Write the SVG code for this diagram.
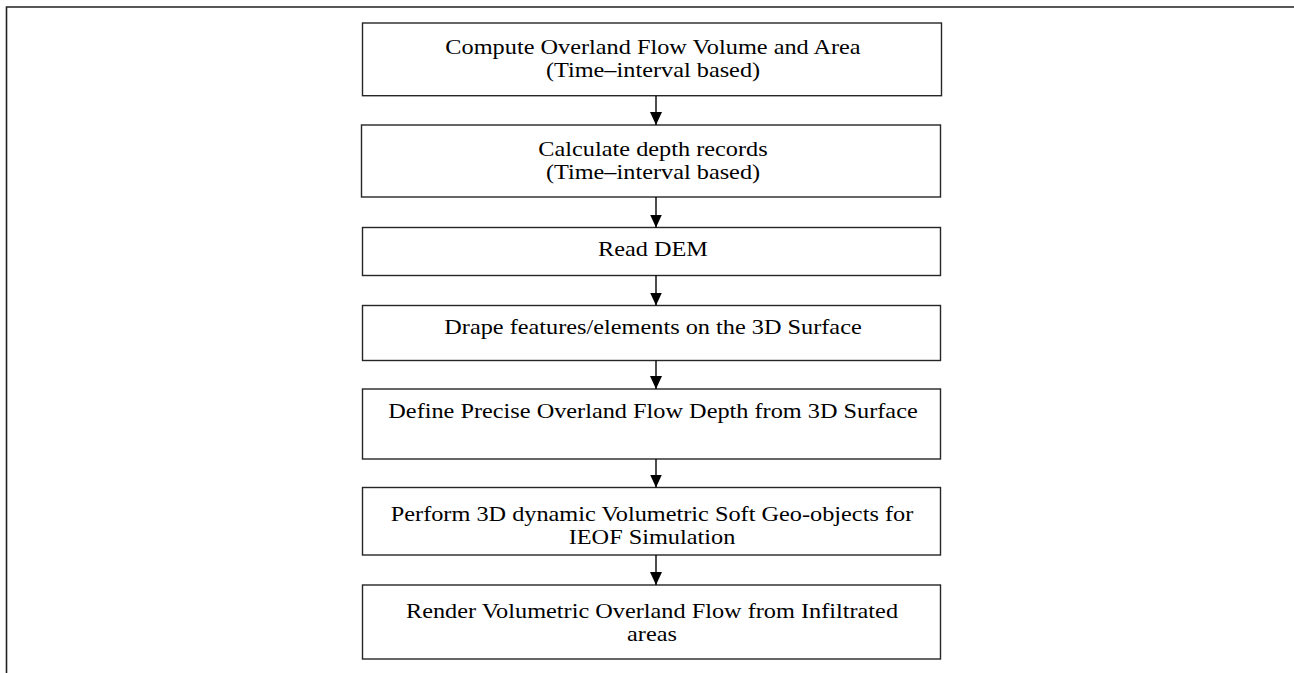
<svg xmlns="http://www.w3.org/2000/svg" width="1294" height="673" viewBox="0 0 1294 673">
<style>
.box{fill:#fff;stroke:#262626;stroke-width:1.4}
.t{font-family:"Liberation Serif","Times New Roman",serif;font-size:20.5px;fill:#000;text-anchor:middle}
.c{stroke:#000;stroke-width:1.4;fill:none}
.frame{stroke:#222;stroke-width:1.6;fill:none}
</style>
<defs>
<marker id="ah" markerUnits="userSpaceOnUse" markerWidth="14" markerHeight="14" refX="13" refY="6" orient="auto">
<path d="M0,0 L13,6 L0,12 Z" fill="#000"/>
</marker>
</defs>
<rect width="1294" height="673" fill="#fff"/>
<path class="frame" d="M6.5,673 V7 H1294"/>
<g id="n1"><rect class="box" x="362.5" y="23" width="579" height="72.7"/><text class="t" transform="translate(653 54) scale(1.185 1)">Compute Overland Flow Volume and Area</text><text class="t" transform="translate(653 77) scale(1.185 1)">(Time–interval based)</text></g>
<g id="n2"><rect class="box" x="361.5" y="125" width="579" height="72"/><text class="t" transform="translate(653 156) scale(1.185 1)">Calculate depth records</text><text class="t" transform="translate(653 179) scale(1.185 1)">(Time–interval based)</text></g>
<g id="n3"><rect class="box" x="362.5" y="227.5" width="578" height="48"/><text class="t" transform="translate(653 256) scale(1.185 1)">Read DEM</text></g>
<g id="n4"><rect class="box" x="362.5" y="305.5" width="578" height="55"/><text class="t" transform="translate(653 334) scale(1.185 1)">Drape features/elements on the 3D Surface</text></g>
<g id="n5"><rect class="box" x="362.5" y="389" width="578" height="70"/><text class="t" transform="translate(653 418) scale(1.185 1)">Define Precise Overland Flow Depth from 3D Surface</text></g>
<g id="n6"><rect class="box" x="362.5" y="487.5" width="578" height="67.5"/><text class="t" transform="translate(652 521) scale(1.185 1)">Perform 3D dynamic Volumetric Soft Geo-objects for</text><text class="t" transform="translate(652 544) scale(1.185 1)">IEOF Simulation</text></g>
<g id="n7"><rect class="box" x="362.5" y="585" width="578" height="74"/><text class="t" transform="translate(652 618) scale(1.185 1)">Render Volumetric Overland Flow from Infiltrated</text><text class="t" transform="translate(652 641) scale(1.185 1)">areas</text></g>
<g id="connectors">
<line class="c" x1="656" y1="95.7" x2="656" y2="125" marker-end="url(#ah)"/>
<line class="c" x1="656" y1="197" x2="656" y2="227.5" marker-end="url(#ah)"/>
<line class="c" x1="656" y1="275.5" x2="656" y2="305.5" marker-end="url(#ah)"/>
<line class="c" x1="656" y1="360.5" x2="656" y2="389" marker-end="url(#ah)"/>
<line class="c" x1="656" y1="459" x2="656" y2="487.5" marker-end="url(#ah)"/>
<line class="c" x1="656" y1="555" x2="656" y2="585" marker-end="url(#ah)"/>
</g>
</svg>
